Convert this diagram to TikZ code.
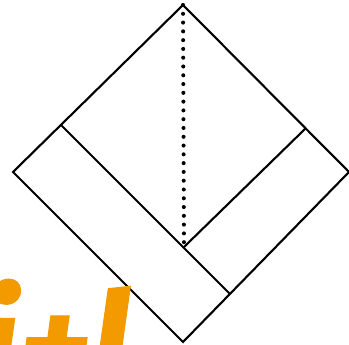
\documentclass[tikz,border=0pt]{standalone}
\usepackage{fontspec}
\newfontfamily\markfont[FakeBold=0.8]{Fira Sans}
\definecolor{markorange}{HTML}{F29A00}
\begin{document}
\begin{tikzpicture}[x=0.02cm,y=-0.02cm,line width=1.2pt]
                \useasboundingbox (0,0) rectangle (349,345);
                \clip (0,0) rectangle (349,345);
                % Corners
                \coordinate (top) at (183,5);
                \coordinate (left) at (13,172);
                \coordinate (right) at (349,172);
                \coordinate (bottom) at (183,342);
                \coordinate (foldA) at (61,125);
                \coordinate (foldD) at (230,294);
                \coordinate (foldB) at (306,128);
                \coordinate (foldC) at (184,247);
                % Outline
                \draw (top) -- (right) -- (bottom) -- (left) -- cycle;
                % Folds
                \draw (foldA) -- (foldD);
                \draw (foldB) -- (foldC);
                \draw[line width=2.3pt, line cap=round, dash pattern=on 0pt off 5pt] (top) -- (foldC);
                % Mark
                \node[anchor=base west, inner sep=0pt, text=markorange] (mark) at (-22,393)
                    {\markfont\bfseries\itshape\fontsize{80}{80}\selectfont i+l};
            \end{tikzpicture}
\end{document}
